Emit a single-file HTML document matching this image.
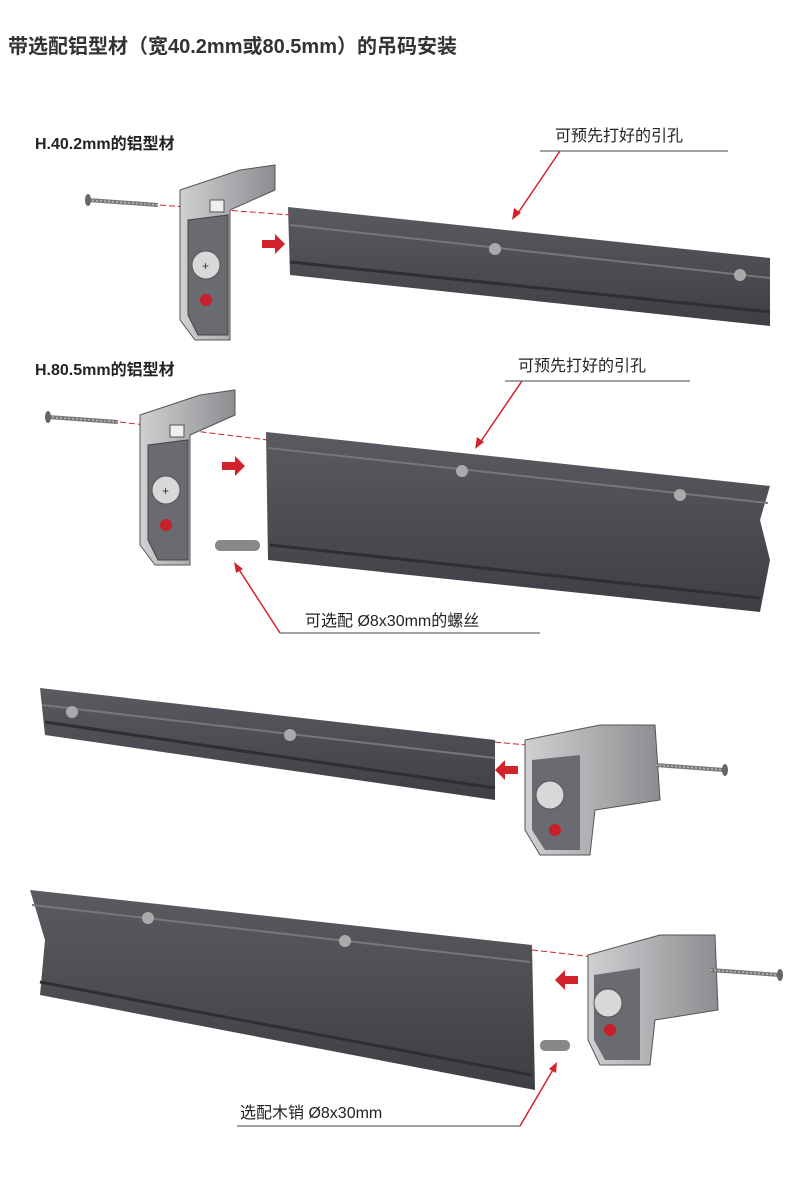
<!DOCTYPE html>
<html><head><meta charset="utf-8"><style>
html,body{margin:0;padding:0;background:#fff;}
svg{display:block}
text{font-family:"Liberation Sans","Noto Sans CJK SC",sans-serif;fill:#222}
</style></head><body>
<svg width="800" height="1193" viewBox="0 0 800 1193" xmlns="http://www.w3.org/2000/svg">
<defs>
<linearGradient id="rg" x1="0" y1="0" x2="0" y2="1">
<stop offset="0" stop-color="#5a5b60"/><stop offset="1" stop-color="#3e3f44"/></linearGradient>
<linearGradient id="bg" x1="0" y1="0" x2="1" y2="0">
<stop offset="0" stop-color="#cfd0d2"/><stop offset="1" stop-color="#8c8d90"/></linearGradient>
<g id="screw"><line x1="0" y1="0" x2="70" y2="5" stroke="#777" stroke-width="4"/><line x1="0" y1="0" x2="70" y2="5" stroke="#bbb" stroke-width="1.5" stroke-dasharray="2,2"/><ellipse cx="0" cy="0" rx="3" ry="6" fill="#666"/></g>
<g id="brk">
<polygon points="0,0 60,-20 95,-25 95,0 50,20 50,150 15,150 0,130" fill="url(#bg)" stroke="#555" stroke-width="1"/>
<polygon points="8,30 48,25 48,145 18,145 8,125" fill="#6a6b70" stroke="#444"/>
<circle cx="26" cy="75" r="14" fill="#d8d8d8" stroke="#555"/>
<text x="22" y="80" font-size="12" style="fill:#333">+</text>
<circle cx="26" cy="110" r="6" fill="#c8202a"/>
<rect x="30" y="10" width="14" height="12" fill="#eee" stroke="#555"/>
</g>
</defs>
<text x="8" y="53" font-size="20" font-weight="bold" style="fill:#333">带选配铝型材（宽40.2mm或80.5mm）的吊码安装</text>

<!-- Section 1 -->
<text x="35" y="149" font-size="16" font-weight="bold">H.40.2mm的铝型材</text>
<text x="555" y="141" font-size="16">可预先打好的引孔</text>
<line x1="540" y1="151" x2="728" y2="151" stroke="#444" stroke-width="1"/>
<line x1="560" y1="151" x2="516" y2="216" stroke="#d2232a" stroke-width="1.5"/>
<polygon points="512,220 514,208 521,213" fill="#d2232a"/>
<polygon points="288,207 770,258 770,326 290,275" fill="url(#rg)"/>
<line x1="290" y1="225" x2="770" y2="278" stroke="#777" stroke-width="2"/>
<line x1="290" y1="262" x2="770" y2="312" stroke="#2e2f33" stroke-width="3"/>
<circle cx="495" cy="249" r="6" fill="#aaa"/><circle cx="740" cy="275" r="6" fill="#aaa"/>
<use href="#screw" x="88" y="200"/>
<line x1="160" y1="205" x2="290" y2="215" stroke="#d2232a" stroke-dasharray="6,3"/>
<use href="#brk" x="180" y="190"/>
<polygon points="262,240 275,240 275,234 285,244 275,254 275,248 262,248" fill="#d2232a"/>

<!-- Section 2 -->
<text x="35" y="375" font-size="16" font-weight="bold">H.80.5mm的铝型材</text>
<text x="518" y="371" font-size="16">可预先打好的引孔</text>
<line x1="505" y1="381" x2="690" y2="381" stroke="#444"/>
<line x1="522" y1="381" x2="479" y2="444" stroke="#d2232a" stroke-width="1.5"/>
<polygon points="475,449 477,437 484,442" fill="#d2232a"/>
<polygon points="266,432 770,486 760,520 770,560 760,612 268,560" fill="url(#rg)"/>
<line x1="268" y1="448" x2="768" y2="503" stroke="#777" stroke-width="2"/>
<line x1="270" y1="545" x2="760" y2="598" stroke="#2e2f33" stroke-width="3"/>
<circle cx="462" cy="471" r="6" fill="#aaa"/><circle cx="680" cy="495" r="6" fill="#aaa"/>
<use href="#screw" x="48" y="417"/>
<line x1="120" y1="422" x2="268" y2="440" stroke="#d2232a" stroke-dasharray="6,3"/>
<use href="#brk" x="140" y="415"/>
<polygon points="222,462 235,462 235,456 245,466 235,476 235,470 222,470" fill="#d2232a"/>
<rect x="215" y="540" width="45" height="11" rx="5" fill="#888"/>
<text x="305" y="626" font-size="16">可选配 Ø8x30mm的螺丝</text>
<line x1="280" y1="633" x2="540" y2="633" stroke="#444"/>
<line x1="280" y1="633" x2="238" y2="568" stroke="#d2232a" stroke-width="1.5"/>
<polygon points="234,562 243,569 236,573" fill="#d2232a"/>

<!-- Section 3 -->
<polygon points="40,688 495,740 495,800 45,735" fill="url(#rg)"/>
<line x1="42" y1="705" x2="495" y2="758" stroke="#777" stroke-width="2"/>
<line x1="45" y1="722" x2="495" y2="788" stroke="#2e2f33" stroke-width="3"/>
<circle cx="72" cy="712" r="6" fill="#aaa"/><circle cx="290" cy="735" r="6" fill="#aaa"/>
<line x1="495" y1="742" x2="600" y2="752" stroke="#d2232a" stroke-dasharray="6,3"/>
<polygon points="525,740 600,725 655,725 660,800 595,810 590,855 540,855 525,830" fill="url(#bg)" stroke="#555"/>
<polygon points="532,760 580,755 580,850 545,850 532,830" fill="#6a6b70"/>
<circle cx="550" cy="795" r="14" fill="#d8d8d8" stroke="#555"/>
<circle cx="555" cy="830" r="6" fill="#c8202a"/>
<use href="#screw" x="725" y="770" transform="rotate(180 725 770) translate(0 0)"/>
<polygon points="518,766 505,766 505,760 495,770 505,780 505,774 518,774" fill="#d2232a"/>

<!-- Section 4 -->
<polygon points="30,890 532,945 535,1090 40,995 45,940" fill="url(#rg)"/>
<line x1="32" y1="905" x2="530" y2="962" stroke="#777" stroke-width="2"/>
<line x1="40" y1="982" x2="532" y2="1075" stroke="#2e2f33" stroke-width="3"/>
<circle cx="148" cy="918" r="6" fill="#aaa"/><circle cx="345" cy="941" r="6" fill="#aaa"/>
<line x1="532" y1="950" x2="640" y2="962" stroke="#d2232a" stroke-dasharray="6,3"/>
<polygon points="588,955 660,935 715,935 718,1010 655,1020 650,1065 600,1065 588,1040" fill="url(#bg)" stroke="#555"/>
<polygon points="594,975 640,968 640,1060 605,1060 594,1040" fill="#6a6b70"/>
<circle cx="608" cy="1003" r="14" fill="#d8d8d8" stroke="#555"/>
<circle cx="610" cy="1030" r="6" fill="#c8202a"/>
<use href="#screw" x="780" y="975" transform="rotate(180 780 975)"/>
<polygon points="578,976 565,976 565,970 555,980 565,990 565,984 578,984" fill="#d2232a"/>
<rect x="540" y="1040" width="30" height="11" rx="5" fill="#888"/>
<text x="240" y="1118" font-size="16">选配木销 Ø8x30mm</text>
<line x1="237" y1="1126" x2="520" y2="1126" stroke="#444"/>
<line x1="520" y1="1126" x2="554" y2="1068" stroke="#d2232a" stroke-width="1.5"/>
<polygon points="557,1062 556,1073 549,1069" fill="#d2232a"/>
</svg>
</body></html>
